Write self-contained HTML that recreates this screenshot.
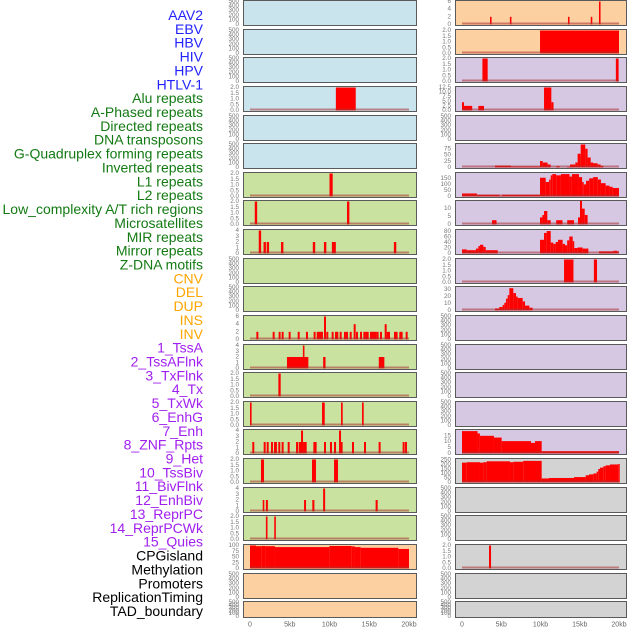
<!DOCTYPE html>
<html><head><meta charset="utf-8"><style>
html,body{margin:0;padding:0;background:#fff;}
svg{display:block;font-family:"Liberation Sans",sans-serif;}
</style></head><body>
<svg id="chart" width="630" height="630" viewBox="0 0 630 630" xmlns="http://www.w3.org/2000/svg"></svg>
<script>
// ---- Data ----
const labelNames = ["AAV2","EBV","HBV","HIV","HPV","HTLV-1","Alu repeats","A-Phased repeats","Directed repeats","DNA transposons","G-Quadruplex forming repeats","Inverted repeats","L1 repeats","L2 repeats","Low_complexity A/T rich regions","Microsatellites","MIR repeats","Mirror repeats","Z-DNA motifs","CNV","DEL","DUP","INS","INV","1_TssA","2_TssAFlnk","3_TxFlnk","4_Tx","5_TxWk","6_EnhG","7_Enh","8_ZNF_Rpts","9_Het","10_TssBiv","11_BivFlnk","12_EnhBiv","13_ReprPC","14_ReprPCWk","15_Quies","CPGisland","Methylation","Promoters","ReplicationTiming","TAD_boundary"];
const xTickKb = [0,5,10,15,20];
const xTickLabels = ["0","5kb","10kb","15kb","20kb"];

const T_EMPTY = ["0","100","200","300","400","500"];
const T2 = ["0.0","0.5","1.0","1.5","2.0"];
const T4 = ["0","1","2","3","4"];
const T6 = ["0","2","4","6"];

// left panels
const L4_s=[10.8], L4_e=[13.3], L4_v=[2];
const L7_s=[10.0], L7_e=[10.4], L7_v=[2];
const L8_s=[0.6,12.2], L8_e=[0.9,12.5], L8_v=[2,2];
const L9_pos=[1.1,1.7,2.1,3.9,7.9,9.3,10.3,10.5,18.1];
const L9_v=[4,2,2,2,2,2,2,2,2];
const L12_pos=[0.8,2.85,3.6,3.98,4.86,6.0,7.04,8.0,8.39,8.6,8.8,8.93,9.31,9.6,10.27,10.69,10.86,11.28,11.82,12.08,12.54,13.04,13.33,13.84,14.26,14.5,14.68,15.09,15.3,15.47,15.68,15.93,16.35,16.94,17.19,17.36,18.11,18.32,18.78,18.95,19.58];
const L12_v=[2,2,2,2,2,2,2,2,2,2,2,2,6,2,2,2,2,2,2,2,2,4,2,2,2,2,2,2,2,2,2,2,2,4,2,2,2,2,2,2,2];
const L13_s=[4.65,6.65,9.2,16.2], L13_e=[7.34,6.85,9.5,16.9], L13_v=[2,4,2,2];
const L14_s=[3.57], L14_e=[3.86], L14_v=[2];
const L15_s=[0,9.06,11.45,14.09], L15_e=[0.2,9.4,11.66,14.3], L15_v=[2,2,2,2];
const L16_pos=[0.29,1.72,2.1,2.64,3.02,3.14,3.56,3.98,4.74,5.79,6.12,6.29,6.42,6.67,6.88,7.97,8.13,9.31,10.06,10.57,11.2,11.4,12.83,14.34,16.18,19.2,19.5];
const L16_v=[2,2,2,2,2,2,2,2,2,2,2,2,4,2,2,2,2,2,2,2,4,2,2,2,2,2,2];
const L17_s=[1.38,7.8,10.57], L17_e=[1.76,8.3,11.07], L17_v=[2,2,2];
const L18_s=[1.6,2.0,6.8,7.84,9.2,15.8], L18_e=[1.8,2.25,7.05,8.1,9.45,16.06], L18_v=[2,2,2,2,4,2];
const L19_s=[2.0,3.05], L19_e=[2.2,3.25], L19_v=[2,2];
const L20_starts=[0,0.755,1.47,1.9,3.14,9.98,12.79,13.2,13.92,18.66], L20_v=[100,97,98,97,93,98,96,93,90,85];

// right panels
const R1_pos=[3.57,6.1,13.5,16.4,17.45], R1_v=[2,2,2,2,6];
const R2_s=[9.94], R2_e=[20], R2_v=[2];
const R3_s=[2.6,19.6], R3_e=[3.27,19.95], R3_v=[2,2];
const R4_s=[0,0.25,2.08,10.45,11.38], R4_e=[0.25,1.3,2.8,11.38,11.66], R4_v=[4.5,2.5,2.5,12.5,4.5];
const R6_starts=[4.2,6.24,9.94,10.28,10.9,11.3,12.0,12.44,13.4,13.76,14.44,14.73,15.12,15.7,16.0,16.39,16.69,17.28,17.66];
const R6_v=[8,4,26,20,12,0,5,0,3,12,20,55,92,75,40,20,17,12,7];
const R7_starts=[0,1.9,4.8,5.1,9.94,10.66,11.1,11.3,11.5,12.0,12.6,13.7,14.0,14.9,15.3,15.5,15.8,16.2,16.7,17.3,17.7,18.3,18.8,19.2];
const R7_v=[25,15,5,15,155,120,140,175,185,175,185,165,185,160,120,100,130,150,160,140,110,90,80,70];
const R8_s=[3.82,9.94,10.24,10.45,10.87,12.0,13.4,14.78,15.03,15.29,15.63], R8_e=[4.4,10.24,10.45,10.87,11.3,12.8,14.27,15.03,15.29,15.63,16.0], R8_v=[2.7,4.5,6,8.5,2.7,2.7,2.7,4.5,15,10,6];
const R9_starts=[0,0.6,1.78,2.08,2.29,2.72,3.02,4.55,9.94,10.45,10.79,11.3,11.63,11.93,12.23,12.82,13.12,13.4,13.67,14.1,14.3,14.73,15.37,16.1,17.45,19.28,19.79];
const R9_v=[15,12,18,27,32,24,12,0,50,75,82,40,35,42,50,35,30,48,62,45,20,22,18,0,8,10,8];
const R10_s=[13.0,16.8], R10_e=[14.2,17.2], R10_v=[2,2];
const R11_starts=[4.2,4.75,5.18,5.39,5.6,5.82,6.03,6.54,6.88,7.09,7.73,8.03,8.58];
const R11_v=[3,5,8,11,17,22,32,25,20,18,13,7,4];
const R16_starts=[0,1.98,2.28,4.07,5.05,8.79,9.3,10.15], R16_v=[19,17,15,13.5,10.5,9,10.5,2];
const R17_starts=[0,0.6,2.29,2.72,3.14,6.11,6.54,7.8,10.15,11.08,14.27,15.75,16.18,16.73,17.15,17.36,17.58,18.0,18.3,18.85,19.9];
const R17_v=[220,225,220,225,235,225,230,240,45,50,60,80,90,100,120,150,165,180,190,200,205];
const R20_s=[3.44], R20_e=[3.7], R20_v=[2];

// ---- helpers to build segments ----
function segs(s,e,v){return s.map((x,i)=>[x,e[i],v[i]]);}
function spikes(p,v,w){return p.map((x,i)=>[x,x+w,v[i]]);}
function steps(st,v,end){return st.map((x,i)=>[x,i<st.length-1?st[i+1]:end,v[i]]);}

const BLUE="#c9e4ed", GREEN="#c9e2a0", ORANGE="#fdd0a2", PURPLE="#d6c8e3", GRAY="#d3d3d3";
const leftBg=[BLUE,BLUE,BLUE,BLUE,BLUE,BLUE,GREEN,GREEN,GREEN,GREEN,GREEN,GREEN,GREEN,GREEN,GREEN,GREEN,GREEN,GREEN,GREEN,ORANGE,ORANGE,ORANGE];
const rightBg=[ORANGE,ORANGE,PURPLE,PURPLE,PURPLE,PURPLE,PURPLE,PURPLE,PURPLE,PURPLE,PURPLE,PURPLE,PURPLE,PURPLE,PURPLE,PURPLE,GRAY,GRAY,GRAY,GRAY,GRAY,GRAY];

const leftCfg = {
  3:{ymax:2,ticks:T2,d:segs(L4_s,L4_e,L4_v)},
  6:{ymax:2,ticks:T2,d:segs(L7_s,L7_e,L7_v)},
  7:{ymax:2,ticks:T2,d:segs(L8_s,L8_e,L8_v)},
  8:{ymax:4,ticks:T4,d:spikes(L9_pos,L9_v,0.3)},
  11:{ymax:6,ticks:T6,d:spikes(L12_pos,L12_v,0.25)},
  12:{ymax:4,ticks:T4,d:segs(L13_s,L13_e,L13_v)},
  13:{ymax:2,ticks:T2,d:segs(L14_s,L14_e,L14_v)},
  14:{ymax:2,ticks:T2,d:segs(L15_s,L15_e,L15_v)},
  15:{ymax:4,ticks:T4,d:spikes(L16_pos,L16_v,0.25)},
  16:{ymax:2,ticks:T2,d:segs(L17_s,L17_e,L17_v)},
  17:{ymax:4,ticks:T4,d:segs(L18_s,L18_e,L18_v)},
  18:{ymax:2,ticks:T2,d:segs(L19_s,L19_e,L19_v)},
  19:{ymax:100,ticks:["0","25","50","75","100"],d:steps(L20_starts,L20_v,20)}
};
const rightCfg = {
  0:{ymax:6,ticks:T6,d:spikes(R1_pos,R1_v,0.2)},
  1:{ymax:2,ticks:T2,d:segs(R2_s,R2_e,R2_v)},
  2:{ymax:2,ticks:T2,d:segs(R3_s,R3_e,R3_v)},
  3:{ymax:12.5,ticks:["0.0","2.5","5.0","7.5","10.0","12.5"],d:segs(R4_s,R4_e,R4_v)},
  5:{ymax:92,ticks:["0","25","50","75"],d:steps(R6_starts,R6_v,18.0)},
  6:{ymax:190,ticks:["0","50","100","150"],d:steps(R7_starts,R7_v,20)},
  7:{ymax:14.5,ticks:["0","5","10"],d:segs(R8_s,R8_e,R8_v)},
  8:{ymax:84,ticks:["0","20","40","60","80"],d:steps(R9_starts,R9_v,19.92)},
  9:{ymax:2,ticks:T2,d:segs(R10_s,R10_e,R10_v)},
  10:{ymax:33,ticks:["0","10","20","30"],d:steps(R11_starts,R11_v,9.0)},
  15:{ymax:19.5,ticks:["0","5","10","15"],d:steps(R16_starts,R16_v,20)},
  16:{ymax:255,ticks:["0","50","100","150","200","250"],d:steps(R17_starts,R17_v,20)},
  19:{ymax:2,ticks:T2,d:segs(R20_s,R20_e,R20_v)}
};

// ---- draw ----
const NS="http://www.w3.org/2000/svg";
const svg=document.getElementById("chart");
function mk(tag,attrs,parent){const el=document.createElementNS(NS,tag);for(const k in attrs)el.setAttribute(k,attrs[k]);(parent||svg).appendChild(el);return el;}

// labels
labelNames.forEach((name,i)=>{
  const col = i<6?"#2222ff":i<19?"#137a13":i<24?"#ffa500":i<39?"#a020f0":"#000";
  const t=mk("text",{x:203,y:15+i*13.86,"text-anchor":"end","dominant-baseline":"central","font-size":"14",fill:col});
  t.textContent=name;
  
  
});

const sides=[
  {x0:243,w:173,d0:250,k:7.95,bg:leftBg,cfg:leftCfg,name:"left"},
  {x0:455,w:171,d0:462,k:7.85,bg:rightBg,cfg:rightCfg,name:"right"}
];
sides.forEach(side=>{
  const xs=kb=>side.d0+kb*side.k;
  for(let r=0;r<22;r++){
    const top=Math.round(r*28.63)+0.5, h=(r===21?16:25);
    const g=mk("g",{});
    
    
    mk("rect",{x:side.x0+0.5,y:top,width:side.w,height:h,fill:side.bg[r],stroke:"#5a5a5a","stroke-width":1},g);
    const c=side.cfg[r];
    const ymax=c?c.ymax:500, ticks=c?c.ticks:T_EMPTY;
    const yb=top+h-1, yt=top+1;
    const ys=v=>yb-(v/ymax)*(yb-yt);
    ticks.forEach(lb=>{
      const t=mk("text",{x:side.x0-4,y:ys(parseFloat(lb)),"text-anchor":"end","dominant-baseline":"central","font-size":"6.3",fill:"#777"},g);
      t.textContent=lb;
      
      
    });
    if(c){
      c.d.forEach(sg=>{
        const x1=xs(sg[0]), x2=xs(sg[1]);
        const b=mk("rect",{x:x1,y:ys(sg[2]),width:Math.max(1.5,x2-x1),height:Math.max(0,yb-ys(sg[2])),fill:"#ff0000"},g);
        
        
      });
      const bl=mk("line",{x1:xs(0),x2:xs(20),y1:yb-1,y2:yb-1,stroke:"rgba(170,50,50,0.55)","stroke-width":2},g);
      
      
    }
  }
  xTickKb.forEach((kb,i)=>{
    const t=mk("text",{x:xs(kb),y:625,"text-anchor":"middle","dominant-baseline":"central","font-size":"7",fill:"#666"});
    t.textContent=xTickLabels[i];
    
    
  });
});
</script>
</body></html>
